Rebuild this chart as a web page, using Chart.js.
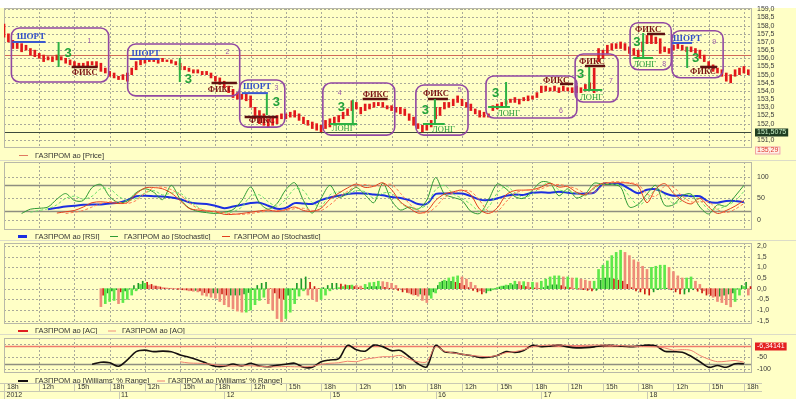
<!DOCTYPE html>
<html>
<head>
<meta charset="utf-8">
<title>ГАЗПРОМ ао</title>
<script src="https://cdn.jsdelivr.net/npm/chart.js@4.4.1/dist/chart.umd.min.js"></script>
<style>
  html, body { margin: 0; padding: 0; }
  body { width: 796px; height: 399px; background: #ffffc6; position: relative; overflow: hidden; }
  #topStrip { position: absolute; left: 0; top: 0; width: 796px; height: 8px; background: #ffffff; }
  canvas { position: absolute; left: 0; }
</style>
</head>
<body>
<div id="topStrip"></div>
<canvas id="priceChart" width="796" height="160" style="top:0px"></canvas>
<canvas id="oscChart" width="796" height="80" style="top:160px"></canvas>
<canvas id="aoChart" width="796" height="94" style="top:240px"></canvas>
<canvas id="wprChart" width="796" height="65" style="top:334px"></canvas>
<script>
// x axis is measured in 3-hour grid blocks (18h | 12h | 15h | 18h ...)
const BARS_PER_BLOCK = 8;
const PTS_PER_BLOCK = 4;
const X_MAX = 21.23;

const TIME_LABELS = ['18h', '12h', '15h', '18h', '12h', '15h', '18h', '12h', '15h', '18h', '12h',
  '15h', '18h', '12h', '15h', '18h', '12h', '15h', '18h', '12h', '15h', '18h'];
const DAY_LABELS = ['2012', '11', '12', '15', '16', '17', '18'];
const DAY_STARTS = [0, 3.25, 6.25, 9.25, 12.25, 15.25, 18.25];

// price bars (low / high)
const PRICE_LOW = [
  157.3, 157.0, 156.6, 156.6, 156.4, 156.5, 156.2, 156.1, 156.0, 155.8,
  155.9, 155.8, 155.9, 155.9, 155.7, 155.6, 155.5, 155.5, 155.5, 155.5,
  155.6, 155.5, 155.2, 155.1, 154.9, 154.8, 154.7, 154.7, 154.6, 155.0,
  155.3, 155.6, 155.7, 155.8, 155.8, 155.7, 155.8, 155.8, 155.7, 155.6,
  155.3, 155.3, 155.2, 155.1, 155.1, 155.0, 155.0, 154.8, 154.6, 154.4,
  154.2, 153.9, 153.6, 153.5, 153.5, 153.4, 153.0, 152.3, 152.0, 151.9,
  151.8, 151.9, 152.0, 152.3, 152.3, 152.4, 152.4, 152.2, 152.0, 151.9,
  151.7, 151.6, 151.5, 151.7, 151.8, 152.0, 152.1, 152.3, 152.5, 152.8,
  152.9, 152.6, 152.8, 152.9, 153.0, 153.1, 153.0, 152.9, 152.8, 152.7,
  152.6, 152.5, 152.2, 151.9, 151.7, 151.5, 151.6, 151.8, 152.3, 152.5,
  152.9, 153.0, 153.1, 153.3, 153.1, 153.0, 152.8, 152.6, 152.4, 152.4,
  152.4, 152.8, 152.9, 153.0, 153.2, 153.3, 153.3, 153.2, 153.4, 153.4,
  153.5, 153.6, 153.9, 154.0, 154.0, 154.0, 153.9, 154.0, 154.0, 153.9,
  153.9, 153.9, 154.0, 154.1, 153.9, 155.8, 156.0, 156.3, 156.5, 156.6,
  156.6, 156.5, 156.3, 156.2, 156.1, 156.4, 156.9, 156.9, 156.9, 156.3,
  156.4, 156.3, 156.5, 156.6, 156.5, 156.4, 156.4, 156.3, 156.0, 155.8,
  155.4, 155.2, 155.1, 154.9, 154.6, 154.5, 154.9, 155.0, 155.1, 155.0
];
const PRICE_HIGH = [
  158.1, 157.5, 157.1, 157.0, 156.9, 156.8, 156.6, 156.5, 156.3, 156.2,
  156.1, 156.1, 156.2, 156.1, 156.0, 155.9, 155.8, 155.7, 155.7, 155.8,
  155.8, 155.8, 155.7, 155.4, 155.2, 155.1, 154.9, 155.0, 155.1, 155.4,
  155.8, 155.9, 155.9, 156.0, 155.9, 155.9, 156.0, 155.9, 155.9, 155.8,
  155.7, 155.5, 155.4, 155.3, 155.3, 155.2, 155.2, 155.1, 154.9, 154.8,
  154.6, 154.3, 154.1, 153.9, 153.8, 153.8, 153.7, 153.0, 152.8, 152.6,
  152.3, 152.4, 152.5, 152.6, 152.6, 152.7, 152.8, 152.6, 152.4, 152.2,
  152.1, 152.0, 151.9, 152.2, 152.3, 152.4, 152.5, 152.7, 152.9, 153.4,
  153.3, 153.0, 153.2, 153.2, 153.3, 153.3, 153.3, 153.1, 153.1, 153.0,
  153.0, 152.9, 152.6, 152.4, 152.0, 151.9, 152.0, 152.2, 153.0, 153.0,
  153.3, 153.3, 153.5, 153.7, 153.5, 153.3, 153.2, 152.9, 152.8, 152.7,
  152.6, 153.1, 153.2, 153.3, 153.4, 153.5, 153.6, 153.5, 153.6, 153.7,
  153.7, 153.9, 154.3, 154.3, 154.2, 154.3, 154.2, 154.3, 154.2, 154.2,
  154.3, 154.2, 154.4, 154.5, 155.4, 156.6, 156.5, 156.8, 156.9, 156.9,
  157.0, 156.9, 156.7, 156.6, 156.5, 157.0, 157.4, 157.5, 157.3, 157.2,
  156.7, 156.6, 156.8, 156.9, 156.8, 156.7, 156.7, 156.6, 156.5, 156.2,
  155.8, 155.6, 155.4, 155.3, 155.1, 155.0, 155.3, 155.4, 155.5, 155.3
];
const PRICE_REF = 156.2;
const LAST_PRICE = 151.5075;

// oscillators, 4 samples per block
const RSI = [null, null, null, null, null,
  25, 28, 31, 33, 35, 36, 36, 38, 40, 46, 55, 56, 55, 54, 52, 48, 41, 38, 37, 33,
  27, 31, 35, 39, 40, 33, 26, 28, 39, 38, 37, 46, 52, 56, 60, 62, 61, 59, 57, 53,
  51, 46, 37, 37, 60, 61, 62, 61, 55, 47, 46, 50, 56, 59, 58, 63, 64, 63, 65, 63,
  61, 61, 63, 83, 83, 83, 72, 62, 70, 71, 62, 56, 57, 55, 55, 42, 40, 44, 44, 41];
const STOCH_FAST_K = [null, null,
  15, 25, 27, 30, 48, 61, 45, 45, 75, 82, 54, 40, 44, 63, 72, 64, 47, 80, 48, 28,
  20, 17, 15, 18, 24, 45, 76, 40, 25, 38, 70, 86, 45, 16, 50, 80, 52, 62, 75, 58,
  40, 85, 45, 23, 30, 25, 46, 98, 60, 52, 45, 20, 15, 46, 83, 72, 54, 50, 69, 88,
  85, 56, 72, 51, 60, 85, 82, 82, 76, 30, 36, 60, 80, 34, 35, 56, 60, 30, 14, 35,
  32, 55, 80];
const STOCH_FAST_D = [null, null, null,
  18, 22, 26, 35, 50, 55, 48, 55, 72, 72, 55, 45, 50, 62, 68, 58, 62, 62, 45, 30,
  20, 17, 16, 19, 30, 55, 58, 42, 32, 48, 72, 68, 40, 32, 58, 65, 60, 68, 65, 50,
  62, 62, 40, 27, 26, 35, 70, 80, 60, 50, 36, 20, 30, 62, 78, 63, 52, 60, 78, 86,
  70, 65, 62, 56, 72, 84, 83, 80, 55, 34, 48, 70, 58, 38, 45, 58, 46, 24, 25, 33,
  44, 66];
const STOCH_SLOW_K = [null, null, null, null, null, null,
  16, 19, 22, 30, 40, 42, 40, 38, 40, 60, 74, 75, 72, 62, 45, 27, 23, 21, 19, 13,
  13, 15, 18, 21, 23, 20, 24, 30, 22, 20, 27, 48, 62, 74, 83, 75, 78, 86, 70, 42,
  28, 16, 20, 45, 60, 65, 69, 58, 25, 15, 28, 58, 68, 69, 70, 76, 85, 76, 77, 64,
  58, 75, 85, 86, 86, 85, 78, 40, 72, 84, 62, 45, 37, 50, 30, 15, 22, 32, 45];
const STOCH_SLOW_D = [null, null, null, null, null, null, null,
  15, 18, 22, 30, 38, 42, 41, 38, 45, 62, 74, 76, 70, 58, 40, 27, 22, 20, 17, 14,
  13, 15, 18, 21, 22, 22, 26, 27, 22, 22, 35, 52, 66, 78, 82, 78, 80, 82, 62, 38,
  22, 16, 30, 52, 62, 68, 66, 45, 20, 20, 42, 62, 68, 70, 72, 80, 82, 78, 72, 62,
  64, 80, 88, 88, 86, 82, 60, 55, 78, 76, 55, 42, 42, 42, 24, 17, 25, 38];
const OSC_LEVELS = [80, 20];

// Awesome / Accelerator oscillators, one value per price bar
const AO = [null, null, null, null, null, null, null, null, null, null, null,
  null, null, null, null, null, null, null, null, null, null, null,
  -0.84, -0.70, -0.60, -0.55, -0.70, -0.65, -0.50, -0.30, -0.10, 0.20, 0.25, 0.17, 0.13, 0.10,
  0.05, 0.03, 0.02, 0.00, -0.02, -0.06, -0.10, -0.12, -0.15, -0.30, -0.35, -0.40, -0.45, -0.60,
  -0.75, -0.85, -0.95, -1.05, -1.10, -1.10, -1.00, -0.75, -0.55, -0.40, -0.70, -1.00, -1.40, -1.55,
  -1.40, -1.10, -0.70, -0.35, -0.10, -0.30, -0.50, -0.60, -0.50, -0.30, -0.10, 0.00, 0.05, 0.10,
  0.15, 0.17, 0.15, 0.12, 0.20, 0.28, 0.30, 0.35, 0.33, 0.30, 0.25, 0.15, 0.00, -0.05, -0.20,
  -0.30, -0.35, -0.55, -0.65, -0.45, -0.20, 0.30, 0.40, 0.50, 0.55, 0.60, 0.55, 0.45, 0.30, 0.15,
  -0.10, -0.15, -0.10, -0.05, 0.05, 0.12, 0.17, 0.25, 0.35, 0.33, 0.33, 0.30, 0.30, 0.28, 0.35,
  0.45, 0.55, 0.60, 0.60, 0.55, 0.55, 0.50, 0.50, 0.45, 0.40, 0.35, 0.35, 0.90, 1.10, 1.30, 1.55,
  1.70, 1.80, 1.70, 1.55, 1.35, 1.25, 1.05, 0.90, 1.00, 1.05, 1.10, 1.10, 1.00, 0.80, 0.60, 0.50,
  0.50, 0.55, 0.35, 0.20, -0.10, -0.25, -0.40, -0.60, -0.65, -0.75, -0.85, -0.60, -0.30, 0.10, -0.30];
const AC = [null, null, null, null, null, null, null, null, null, null, null,
  null, null, null, null, null, null, null, null, null, null, null,
  -0.30, -0.20, -0.10, -0.05, -0.15, -0.10, 0.00, 0.15, 0.25, 0.35, 0.30, 0.20, 0.12, 0.08,
  0.03, 0.00, -0.02, -0.03, -0.05, -0.06, -0.08, -0.08, -0.10, -0.18, -0.20, -0.20, -0.20, -0.25,
  -0.30, -0.30, -0.30, -0.30, -0.25, -0.18, -0.05, 0.15, 0.25, 0.30, 0.00, -0.20, -0.45, -0.50,
  -0.30, -0.05, 0.25, 0.45, 0.55, 0.30, 0.10, 0.00, 0.05, 0.15, 0.25, 0.25, 0.22, 0.18,
  0.15, 0.10, 0.05, 0.02, 0.06, 0.10, 0.10, 0.10, 0.06, 0.02, -0.02, -0.08, -0.15, -0.18, -0.25,
  -0.28, -0.25, -0.30, -0.30, -0.15, 0.15, 0.35, 0.35, 0.35, 0.30, 0.25, 0.15, 0.05, -0.08, -0.15,
  -0.25, -0.20, -0.10, -0.02, 0.08, 0.12, 0.15, 0.18, 0.20, 0.15, 0.10, 0.05, 0.03, 0.00, 0.05,
  0.12, 0.18, 0.18, 0.15, 0.08, 0.05, 0.00, -0.02, -0.05, -0.08, -0.10, -0.08, 0.40, 0.50, 0.50, 0.45,
  0.40, 0.35, 0.20, 0.05, -0.10, -0.15, -0.25, -0.30, -0.15, -0.05, 0.00, 0.02, -0.05, -0.15, -0.25, -0.25,
  -0.15, -0.05, -0.12, -0.20, -0.30, -0.32, -0.35, -0.35, -0.30, -0.25, -0.20, 0.00, 0.15, 0.30, 0.10];

// Williams' %R, 4 samples per block
const WPR_FAST = [null, null, null, null, null, null, null, null, null, null,
  -80, -72, -74, -88, -63, -30, -24, -30, -28, -30,
  -43, -52, -63, -76, -88, -88, -79, -87, -76, -87,
  -90, -84, -80, -76, -92, -92, -70, -63, -58, -5,
  -22, -28, -4, -10, -26, -25, -50, -78, -90, -5,
  -30, -34, -40, -45, -53, -52, -45, -30, -33, -25,
  -5, -10, -8, -4, -11, -15, -14, -11, -6, -5,
  -8, -10, -8, -4, -7, -28, -30, -32, -48, -70,
  -92, -85, -92, -78, -78];
const WPR_SLOW = [null, null, null, null, null, null, null, null, null, null,
  null, null, null, null, null, null, null, null, null, null,
  -70, -75, -76, -78, -82, -86, -87, -86, -86, -88,
  -90, -90, -89, -90, -90, -88, -80, -76, -74, -68,
  -70, -60, -55, -50, -50, -45, -60, -70, -70, -10,
  -28, -35, -40, -45, -48, -50, -45, -34, -30, -22,
  -10, -6, -4, -4, -5, -6, -5, -4, -4, -5,
  -6, -8, -9, -10, -11, -15, -24, -22, -25, -45,
  -60, -70, -68, -65, -72];
const WPR_TOP = -6.34141;
const WPR_LOW = -80;

// trade boxes: [x from, x to, price top, price bottom]
const TRADE_BOXES = [
  [0.21, 2.97, 157.86, 154.55],
  [3.51, 6.69, 156.88, 153.70],
  [6.69, 7.97, 154.67, 151.79],
  [9.05, 11.09, 154.49, 151.30],
  [11.69, 13.17, 154.37, 151.30],
  [13.68, 16.26, 154.92, 152.35],
  [16.21, 17.43, 156.26, 153.33],
  [17.77, 18.94, 158.18, 155.30],
  [18.96, 20.41, 157.69, 154.81]
];
// [x, price, text, kind]
const TRADE_LABELS = [
  [0.36, 157.30, 'ШОРТ', 'short'], [1.72, 156.32, '3', 'three'], [2.37, 157.06, '1', 'num'], [1.92, 155.10, 'ФИКС', 'fix'],
  [3.62, 156.26, 'ШОРТ', 'short'], [5.13, 154.73, '3', 'three'], [6.29, 156.39, '2', 'num'], [5.78, 154.06, 'ФИКС', 'fix'],
  [6.78, 154.24, 'ШОРТ', 'short'], [7.68, 154.18, '3', 'num'], [7.63, 153.32, '3', 'three'], [6.95, 152.16, 'ФИКС', 'fix'],
  [9.47, 153.87, '4', 'num'], [9.47, 153.02, '3', 'three'], [9.30, 151.67, 'ЛОНГ', 'long'], [10.18, 153.78, 'ФИКС', 'fix'],
  [11.89, 153.84, 'ФИКС', 'fix'], [12.88, 154.06, '5', 'num'], [11.86, 152.83, '3', 'three'], [12.15, 151.64, 'ЛОНГ', 'long'],
  [13.85, 153.87, '3', 'three'], [13.99, 152.59, 'ЛОНГ', 'long'], [15.75, 152.77, '6', 'num'], [15.30, 154.64, 'ФИКС', 'fix'],
  [16.32, 155.80, 'ФИКС', 'fix'], [16.26, 155.01, '3', 'three'], [16.35, 153.60, 'ЛОНГ', 'long'], [17.17, 154.61, '7', 'num'],
  [17.91, 157.73, 'ФИКС', 'fix'], [17.86, 156.97, '3', 'three'], [17.86, 155.62, 'ЛОНГ', 'long'], [18.68, 155.62, '8', 'num'],
  [18.99, 157.21, 'ШОРТ', 'short'], [20.10, 157.00, '9', 'num'], [19.53, 156.02, '3', 'three'], [19.47, 155.19, 'ФИКС', 'fix']
];
// [x1, price1, x2, price2, kind]
const TRADE_STROKES = [
  [0.24, 157.00, 1.18, 157.00, 'short'], [1.55, 157.00, 1.55, 155.47, 'long'], [1.92, 155.47, 2.66, 155.47, 'fix'],
  [3.57, 155.96, 4.42, 155.96, 'short'], [4.99, 156.02, 4.99, 154.55, 'long'], [5.89, 154.49, 6.61, 154.49, 'fix'],
  [6.75, 153.87, 7.49, 153.87, 'short'], [7.46, 153.81, 7.46, 152.53, 'long'], [6.83, 152.41, 7.77, 152.41, 'fix'],
  [9.90, 153.45, 9.90, 152.04, 'long'], [9.25, 151.98, 10.02, 151.98, 'long'], [10.18, 153.51, 10.89, 153.51, 'fix'],
  [12.03, 153.51, 12.60, 153.51, 'fix'], [12.23, 153.51, 12.23, 152.04, 'long'], [11.89, 151.98, 12.51, 151.98, 'long'],
  [14.25, 154.55, 14.25, 153.02, 'long'], [13.74, 153.02, 14.36, 153.02, 'long'], [15.78, 154.43, 16.15, 154.43, 'fix'],
  [16.49, 155.53, 17.06, 155.53, 'fix'], [16.61, 155.47, 16.61, 154.00, 'long'], [16.44, 154.06, 16.98, 154.06, 'long'],
  [18.25, 157.49, 18.76, 157.49, 'fix'], [18.14, 157.55, 18.14, 156.02, 'long'], [17.86, 156.02, 18.42, 156.02, 'long'],
  [18.96, 156.94, 19.53, 156.94, 'short'], [19.39, 156.69, 19.39, 155.41, 'long'], [19.76, 155.47, 20.24, 155.47, 'fix']
];

const FONT = 'Arial, "Liberation Sans", sans-serif';
const SERIF = '"Times New Roman", "Liberation Serif", serif';

function comma(v, d) { return v.toFixed(d).replace('.', ','); }

// dotted grid, frame, separator and horizontal level lines
const panelGrid = {
  id: 'panelGrid',
  beforeDatasetsDraw(chart, args, o) {
    const { ctx, chartArea: a, scales: { x, y } } = chart;
    ctx.save();
    if (o.separator) {
      ctx.strokeStyle = '#dcdcc8'; ctx.lineWidth = 1;
      ctx.beginPath(); ctx.moveTo(0, 0.5); ctx.lineTo(chart.width, 0.5); ctx.stroke();
    }
    ctx.lineWidth = 1;
    ctx.strokeStyle = '#a9a99a';
    ctx.setLineDash([2, 2]);
    ctx.beginPath();
    for (let k = 1; k <= 21; k++) {
      const px = Math.round(x.getPixelForValue(k)) + 0.5;
      ctx.moveTo(px, a.top); ctx.lineTo(px, a.bottom);
    }
    y.ticks.forEach(t => {
      const py = Math.round(y.getPixelForValue(t.value)) + 0.5;
      ctx.moveTo(a.left, py); ctx.lineTo(a.right, py);
    });
    ctx.stroke();
    ctx.setLineDash([]);
    (o.levels || []).forEach(l => {
      const py = Math.round(y.getPixelForValue(l.value)) + 0.5;
      ctx.strokeStyle = l.color; ctx.lineWidth = l.width;
      ctx.beginPath(); ctx.moveTo(a.left, py); ctx.lineTo(a.right, py); ctx.stroke();
    });
    ctx.strokeStyle = '#b8b8a8'; ctx.lineWidth = 1;
    ctx.strokeRect(a.left + 0.5, a.top + 0.5, a.width - 1, a.height - 1);
    ctx.restore();
  }
};

// legend row under each panel
const legendStrip = {
  id: 'legendStrip',
  afterDraw(chart, args, o) {
    const ctx = chart.ctx;
    ctx.save();
    ctx.font = '7.5px ' + FONT;
    ctx.textBaseline = 'middle';
    o.items.forEach(it => {
      ctx.strokeStyle = it.color; ctx.lineWidth = it.lw;
      ctx.beginPath(); ctx.moveTo(it.x, o.y + 0.5); ctx.lineTo(it.x + it.w, o.y + 0.5); ctx.stroke();
      ctx.fillStyle = '#333333';
      ctx.fillText(it.label, it.tx, o.y + 0.5);
    });
    ctx.restore();
  }
};

// boxed value markers on the right axis
const valueTags = {
  id: 'valueTags',
  afterDraw(chart, args, o) {
    const { ctx, chartArea: a, scales: { y } } = chart;
    ctx.save();
    ctx.font = '7px ' + FONT;
    ctx.textBaseline = 'middle';
    (o.tags || []).forEach(t => {
      const py = t.below ? a.bottom + 2.5 : Math.round(y.getPixelForValue(t.value)) + 0.5;
      const w = ctx.measureText(t.text).width + 4;
      ctx.fillStyle = t.bg;
      ctx.fillRect(a.right + 3, py - 4, w, 8);
      if (t.edge) { ctx.strokeStyle = t.edge; ctx.lineWidth = 1; ctx.strokeRect(a.right + 3.5, py - 3.5, w - 1, 7); }
      ctx.fillStyle = t.fg;
      ctx.fillText(t.text, a.right + 5, py);
    });
    ctx.restore();
  }
};

// trade annotations on the price panel
const tradeMarks = {
  id: 'tradeMarks',
  afterDatasetsDraw(chart) {
    const { ctx, scales: { x, y } } = chart;
    ctx.save();
    ctx.strokeStyle = '#9148a3'; ctx.lineWidth = 1.6;
    TRADE_BOXES.forEach(b => {
      const x1 = x.getPixelForValue(b[0]), x2 = x.getPixelForValue(b[1]);
      const y1 = y.getPixelForValue(b[2]), y2 = y.getPixelForValue(b[3]);
      ctx.beginPath(); ctx.roundRect(x1, y1, x2 - x1, y2 - y1, 8); ctx.stroke();
    });
    const strokeStyle = { short: ['#3a58d0', 2], fix: ['#5e1212', 2.5], long: ['#2cb244', 2] };
    TRADE_STROKES.forEach(s => {
      ctx.strokeStyle = strokeStyle[s[4]][0]; ctx.lineWidth = strokeStyle[s[4]][1];
      ctx.beginPath();
      ctx.moveTo(x.getPixelForValue(s[0]), y.getPixelForValue(s[1]));
      ctx.lineTo(x.getPixelForValue(s[2]), y.getPixelForValue(s[3]));
      ctx.stroke();
    });
    const textStyle = {
      short: ['bold 9px ' + SERIF, '#3350c8'],
      fix: ['bold 8.5px ' + SERIF, '#7c1414'],
      long: ['8.5px ' + SERIF, '#2a9e3c'],
      three: ['bold 13px ' + FONT, '#22a23a'],
      num: ['7px ' + FONT, '#9a58aa']
    };
    ctx.textBaseline = 'middle';
    TRADE_LABELS.forEach(t => {
      ctx.font = textStyle[t[3]][0]; ctx.fillStyle = textStyle[t[3]][1];
      ctx.fillText(t[2], x.getPixelForValue(t[0]), y.getPixelForValue(t[1]));
    });
    ctx.restore();
  }
};

// two-row time axis under the last panel
const timeAxis = {
  id: 'timeAxis',
  afterDraw(chart, args, o) {
    const { ctx, chartArea: a, scales: { x } } = chart;
    ctx.save();
    ctx.strokeStyle = '#c9c9b4'; ctx.lineWidth = 1;
    ctx.beginPath();
    ctx.moveTo(0, o.rowTop + 0.5); ctx.lineTo(a.right + 10, o.rowTop + 0.5);
    ctx.moveTo(0, o.rowMid + 0.5); ctx.lineTo(a.right + 10, o.rowMid + 0.5);
    TIME_LABELS.forEach((lab, k) => {
      const px = Math.round(x.getPixelForValue(k)) + 0.5;
      ctx.moveTo(px, o.rowTop); ctx.lineTo(px, o.rowMid);
    });
    DAY_STARTS.forEach(d => {
      const px = Math.round(x.getPixelForValue(d)) + 0.5;
      ctx.moveTo(px, o.rowMid); ctx.lineTo(px, o.rowMid + 9);
    });
    ctx.stroke();
    ctx.font = '7px ' + FONT;
    ctx.fillStyle = '#333333';
    ctx.textBaseline = 'middle';
    TIME_LABELS.forEach((lab, k) => ctx.fillText(lab, x.getPixelForValue(k) + 3, o.hourY));
    DAY_LABELS.forEach((lab, k) => ctx.fillText(lab, x.getPixelForValue(DAY_STARTS[k]) + 2.5, o.dayY));
    ctx.restore();
  }
};

function xAxis() {
  return { type: 'linear', min: 0, max: X_MAX, offset: false, display: false };
}
function yAxis(min, max, step, fmt) {
  return {
    type: 'linear', position: 'right', min: min, max: max,
    grid: { display: false, drawTicks: false },
    border: { display: false },
    ticks: { stepSize: step, includeBounds: false, autoSkip: false, padding: 5, color: '#3a3a3a',
      font: { family: FONT, size: 7 }, callback: fmt },
    // fixed axis width, and no extra room reserved for end labels
    afterFit(s) { s.width = 44; s.paddingTop = 0; s.paddingBottom = 0; }
  };
}
function points(values, perBlock) {
  return values.map((v, i) => ({ x: i / perBlock, y: v }));
}
function lineSet(values, color, width, dash) {
  return { type: 'line', data: points(values, PTS_PER_BLOCK), borderColor: color, borderWidth: width,
    borderDash: dash || [], pointRadius: 0, tension: 0.3, fill: false };
}
function baseOptions(padTop, padBottom) {
  return { responsive: false, animation: false, events: [],
    layout: { padding: { left: 4, right: 0, top: padTop, bottom: padBottom } } };
}

// price panel
new Chart(document.getElementById('priceChart'), {
  type: 'bar',
  data: {
    datasets: [{
      data: PRICE_LOW.map((lo, i) => ({ x: i / BARS_PER_BLOCK, y: [lo, PRICE_HIGH[i]] })),
      backgroundColor: '#e2181b', barThickness: 2, grouped: false
    }]
  },
  options: Object.assign(baseOptions(8, 12), {
    scales: { x: xAxis(), y: yAxis(150.51, 159.08, 0.5, v => comma(v, 1)) },
    plugins: {
      legend: { display: false }, tooltip: { enabled: false },
      panelGrid: { levels: [{ value: PRICE_REF, color: '#d26a5a', width: 1 }, { value: LAST_PRICE, color: '#3c4a3c', width: 1 }] },
      legendStrip: { y: 155, items: [{ x: 19, w: 9, color: '#e07a60', lw: 1, tx: 35, label: 'ГАЗПРОМ ао [Price]' }] },
      valueTags: { tags: [
        { value: LAST_PRICE, text: comma(LAST_PRICE, 4), bg: '#1f3d22', fg: '#c8f0c8' },
        { below: true, text: '135,29', bg: '#fff0e8', fg: '#e03a2a', edge: '#f0a8a0' }
      ] }
    }
  }),
  plugins: [panelGrid, legendStrip, valueTags, tradeMarks]
});

// RSI / stochastic panel
new Chart(document.getElementById('oscChart'), {
  type: 'line',
  data: {
    datasets: [
      lineSet(STOCH_SLOW_D, '#ff7a50', 1, [3, 2]),
      lineSet(STOCH_SLOW_K, '#e2401e', 1),
      lineSet(STOCH_FAST_D, '#6ee06a', 1, [3, 2]),
      lineSet(STOCH_FAST_K, '#2e9a34', 1),
      lineSet(RSI, '#1c2fe0', 2)
    ]
  },
  options: Object.assign(baseOptions(2, 10), {
    scales: { x: xAxis(), y: yAxis(-23.1, 133.9, 50, v => String(v)) },
    plugins: {
      legend: { display: false }, tooltip: { enabled: false },
      panelGrid: { separator: true, levels: OSC_LEVELS.map(v => ({ value: v, color: '#8e8e80', width: 1.5 })) },
      legendStrip: { y: 76, items: [
        { x: 18, w: 9, color: '#1c2fe0', lw: 3, tx: 35, label: 'ГАЗПРОМ ао [RSI]' },
        { x: 110, w: 8, color: '#2e9a34', lw: 1, tx: 124, label: 'ГАЗПРОМ ао [Stochastic]' },
        { x: 222, w: 8, color: '#e2401e', lw: 1, tx: 234, label: 'ГАЗПРОМ ао [Stochastic]' }
      ] }
    }
  }),
  plugins: [panelGrid, legendStrip]
});

// AC / AO histogram panel
new Chart(document.getElementById('aoChart'), {
  type: 'bar',
  data: {
    datasets: [
      { data: points(AO, BARS_PER_BLOCK), barThickness: 2, grouped: false,
        backgroundColor: c => { const p = AO[c.dataIndex - 1]; return (p != null && AO[c.dataIndex] >= p) ? '#5ee84a' : '#ee8c78'; } },
      { data: AC.map((v, i) => ({ x: i / BARS_PER_BLOCK + 0.0625, y: v })), barThickness: 1, grouped: false,
        backgroundColor: c => { const p = AC[c.dataIndex - 1]; return (p != null && AC[c.dataIndex] >= p) ? '#1e9a28' : '#cc1a10'; } }
    ]
  },
  options: Object.assign(baseOptions(3, 10), {
    scales: { x: xAxis(), y: yAxis(-1.655, 2.14, 0.5, v => comma(v, 1)) },
    plugins: {
      legend: { display: false }, tooltip: { enabled: false },
      panelGrid: { separator: true },
      legendStrip: { y: 90.5, items: [
        { x: 18, w: 10, color: '#e02020', lw: 2, tx: 35, label: 'ГАЗПРОМ ао [AC]' },
        { x: 108, w: 8, color: '#f0907a', lw: 1, tx: 122, label: 'ГАЗПРОМ ао [AO]' }
      ] }
    }
  }),
  plugins: [panelGrid, legendStrip]
});

// Williams' %R panel with time axis
new Chart(document.getElementById('wprChart'), {
  type: 'line',
  data: {
    datasets: [
      lineSet(WPR_SLOW, '#f08070', 1),
      lineSet(WPR_FAST, '#161010', 1.6)
    ]
  },
  options: Object.assign(baseOptions(4, 26), {
    scales: { x: xAxis(), y: yAxis(-114.7, 24.2, 50, v => (v === 0 ? '' : String(v))) },
    plugins: {
      legend: { display: false }, tooltip: { enabled: false },
      panelGrid: { separator: true, levels: [{ value: WPR_TOP, color: '#f07a6a', width: 1.5 }, { value: WPR_LOW, color: '#8e8e80', width: 1.5 }] },
      legendStrip: { y: 46.5, items: [
        { x: 18, w: 10, color: '#161010', lw: 2, tx: 35, label: "ГАЗПРОМ ао [Williams' % Range]" },
        { x: 157, w: 8, color: '#f08070', lw: 1, tx: 168, label: "ГАЗПРОМ ао [Williams' % Range]" }
      ] },
      valueTags: { tags: [{ value: WPR_TOP, text: comma(WPR_TOP, 5), bg: '#e42020', fg: '#ffffff' }] },
      timeAxis: { rowTop: 49, rowMid: 57, hourY: 53.5, dayY: 61 }
    }
  }),
  plugins: [panelGrid, legendStrip, valueTags, timeAxis]
});
</script>
</body>
</html>
